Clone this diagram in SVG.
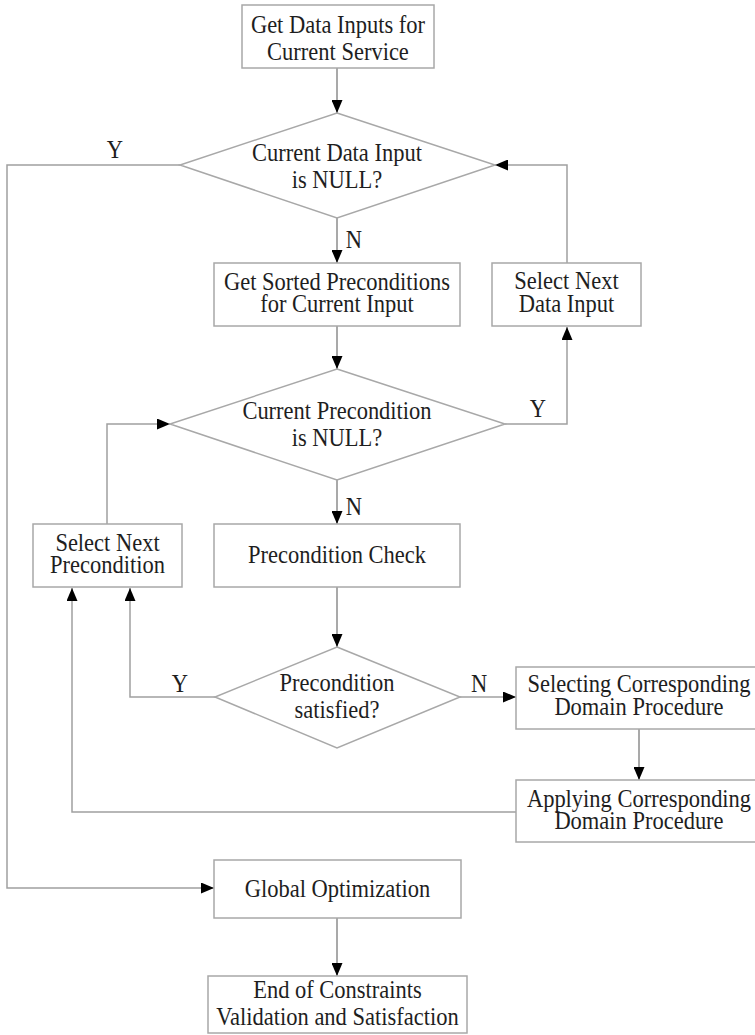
<svg xmlns="http://www.w3.org/2000/svg" width="755" height="1035" viewBox="0 0 755 1035">
  <style>
    .box { fill: #ffffff; stroke: #a8a8a8; stroke-width: 1.5; }
    .wire { fill: none; stroke: #a0a0a0; stroke-width: 1.5; }
    .feed { fill: none; stroke: #707070; stroke-width: 1.2; }
    text { font-family: "Liberation Serif", "Times New Roman", serif; font-size: 25px; fill: #1e1e1e; text-anchor: middle;
           transform-box: fill-box; transform-origin: center; transform: scaleX(0.9); }
  </style>
  <defs>
    <marker id="arrow" markerUnits="userSpaceOnUse" markerWidth="13" markerHeight="11" refX="13" refY="5.5" orient="auto">
      <path d="M0,0 L13,5.5 L0,11 z" fill="#000000"/>
    </marker>
  </defs>

  <rect width="755" height="1035" fill="#ffffff"/>

  <!-- connectors -->
  <g id="connectors">
    <line class="feed" x1="337" y1="68" x2="337" y2="113" marker-end="url(#arrow)"/>
    <line class="feed" x1="337" y1="218" x2="337" y2="263" marker-end="url(#arrow)"/>
    <polyline class="wire" points="180,165 7,165 7,888 214,888" marker-end="url(#arrow)"/>
    <polyline class="wire" points="567,263 567,165 495,165" marker-end="url(#arrow)"/>
    <line class="feed" x1="337" y1="326" x2="337" y2="369" marker-end="url(#arrow)"/>
    <polyline class="wire" points="505,424 567,424 567,327" marker-end="url(#arrow)"/>
    <polyline class="wire" points="107,524 107,424 170,424" marker-end="url(#arrow)"/>
    <line class="feed" x1="337" y1="480" x2="337" y2="524" marker-end="url(#arrow)"/>
    <line class="feed" x1="337" y1="587" x2="337" y2="647" marker-end="url(#arrow)"/>
    <polyline class="wire" points="215,697 130,697 130,588" marker-end="url(#arrow)"/>
    <line class="wire" x1="460" y1="697" x2="516" y2="697" marker-end="url(#arrow)"/>
    <line class="feed" x1="639" y1="729" x2="639" y2="780" marker-end="url(#arrow)"/>
    <polyline class="wire" points="516,812 72,812 72,588" marker-end="url(#arrow)"/>
    <line class="feed" x1="337" y1="918" x2="337" y2="976" marker-end="url(#arrow)"/>
    <text x="115" y="158">Y</text>
    <text x="354" y="248">N</text>
    <text x="538" y="417">Y</text>
    <text x="354" y="515">N</text>
    <text x="180" y="692">Y</text>
    <text x="479" y="692">N</text>
  </g>

  <g id="get-data-inputs">
    <rect class="box" x="242" y="5" width="192" height="63"/>
    <text x="338" y="33">Get Data Inputs for</text>
    <text x="338" y="60">Current Service</text>
  </g>

  <g id="data-input-null">
    <polygon class="box" points="337,113 495,165 337,218 180,165"/>
    <text x="337" y="161">Current Data Input</text>
    <text x="337" y="188">is NULL?</text>
  </g>

  <g id="get-sorted-preconditions">
    <rect class="box" x="214" y="263" width="246" height="63"/>
    <text x="337" y="290">Get Sorted Preconditions</text>
    <text x="337" y="312">for Current Input</text>
  </g>

  <g id="select-next-data-input">
    <rect class="box" x="492" y="263" width="149" height="63"/>
    <text x="566.5" y="289">Select Next</text>
    <text x="566.5" y="312">Data Input</text>
  </g>

  <g id="precondition-null">
    <polygon class="box" points="337,369 505,424 337,480 170,424"/>
    <text x="337" y="419">Current Precondition</text>
    <text x="337" y="446">is NULL?</text>
  </g>

  <g id="select-next-precondition">
    <rect class="box" x="33" y="524" width="149" height="63"/>
    <text x="107.5" y="551">Select Next</text>
    <text x="107.5" y="573">Precondition</text>
  </g>

  <g id="precondition-check">
    <rect class="box" x="214" y="524" width="246" height="63"/>
    <text x="337" y="563">Precondition Check</text>
  </g>

  <g id="precondition-satisfied">
    <polygon class="box" points="337,647 460,697 337,748 215,697"/>
    <text x="337" y="691">Precondition</text>
    <text x="337" y="718">satisfied?</text>
  </g>

  <g id="selecting-procedure">
    <rect class="box" x="516" y="667" width="246" height="62"/>
    <text x="639" y="692">Selecting Corresponding</text>
    <text x="639" y="715">Domain Procedure</text>
  </g>

  <g id="applying-procedure">
    <rect class="box" x="516" y="780" width="246" height="62"/>
    <text x="639" y="807">Applying Corresponding</text>
    <text x="639" y="829">Domain Procedure</text>
  </g>

  <g id="global-optimization">
    <rect class="box" x="214" y="860" width="247" height="58"/>
    <text x="337.5" y="897">Global Optimization</text>
  </g>

  <g id="end-validation">
    <rect class="box" x="208" y="976" width="259" height="57"/>
    <text x="337.5" y="998">End of Constraints</text>
    <text x="337.5" y="1025">Validation and Satisfaction</text>
  </g>
</svg>
